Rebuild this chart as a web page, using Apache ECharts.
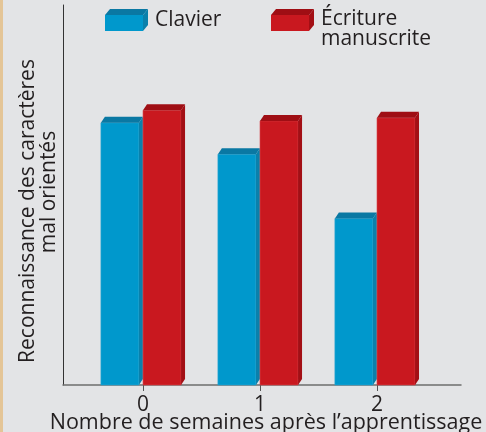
<!DOCTYPE html>
<html>
<head>
<meta charset="utf-8">
<script src="https://cdn.jsdelivr.net/npm/echarts@6/dist/echarts.min.js"></script>
<style>
  html, body { margin: 0; padding: 0; background: #e3e4e6; }
  #chart { width: 486px; height: 432px; }
</style>
</head>
<body>
<div id="chart"></div>
<script>
// ---- data ----
const weeks = [0, 1, 2];
const weekLabels = ['0', '1', '2'];
const seriesNames = ['Clavier', 'Écriture manuscrite'];
const clavier = [69.0, 60.7, 43.8];
const manuscrite = [72.3, 69.5, 70.3];
const xTitle = 'Nombre de semaines après l’apprentissage';
const yTitleLines = ['Reconnaissance des caractères', 'mal orientés'];

// ---- style ----
const FONT = '"Open Sans", "Noto Sans", sans-serif';
const TEXT = '#231f20';
const faces = [
  { front: '#0098cc', top: '#0a78a3', side: '#0a80ab', edge: '#2aa6d4' },
  { front: '#c9181f', top: '#9f0e14', side: '#a30f15', edge: '#d6454b' }
];
const SLOT = 0.36, FRONT = 0.325, DX = 4, DY = 6;

function boxIcon(f, h) {
  const svg = '<svg xmlns="http://www.w3.org/2000/svg" width="43" height="' + h + '" viewBox="0 0 43 ' + h + '">' +
    '<rect x="0" y="6" width="38" height="16" fill="' + f.front + '"/>' +
    '<polygon points="0,6 5,0 43,0 38,6" fill="' + f.top + '"/>' +
    '<polygon points="38,6 43,0 43,16 38,22" fill="' + f.side + '"/>' +
    '</svg>';
  return 'image://data:image/svg+xml;charset=utf-8,' + encodeURIComponent(svg);
}

function makeRender(idx) {
  const f = faces[idx];
  return function (params, api) {
    const x = api.value(0), v = api.value(1);
    const unit = api.size([1, 0])[0];
    const slot = unit * SLOT, fw = unit * FRONT;
    const t = api.coord([x, v]);
    const b = api.coord([x, 0]);
    const x0 = t[0] + (idx === 0 ? -slot : 0);
    const x1 = x0 + fw;
    return {
      type: 'group',
      children: [
        { type: 'rect', shape: { x: x0, y: t[1], width: fw, height: b[1] - t[1] }, style: { fill: f.front, stroke: f.edge, lineWidth: 0.6 } },
        { type: 'polygon', shape: { points: [[x1, t[1]], [x1 + DX, t[1] - DY], [x1 + DX, b[1] - DY], [x1, b[1]]] }, style: { fill: f.side } },
        { type: 'polygon', shape: { points: [[x0, t[1]], [x0 + DX, t[1] - DY], [x1 + DX, t[1] - DY], [x1, t[1]]] }, style: { fill: f.top } }
      ]
    };
  };
}

const chart = echarts.init(document.getElementById('chart'), null, { renderer: 'canvas' });
chart.setOption({
  backgroundColor: '#e3e4e6',
  animation: false,
  textStyle: { fontFamily: FONT },
  grid: { left: 63, right: 25, top: 5, bottom: 47, containLabel: false, outerBoundsMode: 'none' },
  legend: [
    {
      left: 105, top: 9, padding: 0, itemWidth: 43, itemHeight: 22,
      selectedMode: false,
      data: [{ name: seriesNames[0], icon: boxIcon(faces[0], 22) }],
      textStyle: { fontSize: 21, color: TEXT, fontFamily: FONT, padding: [0, 0, 0, 2] }
    },
    {
      left: 271, top: 9, padding: 0, itemWidth: 43, itemHeight: 41,
      selectedMode: false,
      data: [{ name: seriesNames[1], icon: boxIcon(faces[1], 41) }],
      formatter: function (n) { return n.replace(' ', '\n'); },
      textStyle: { fontSize: 21, lineHeight: 20, color: TEXT, fontFamily: FONT, padding: [0, 0, 0, 2] }
    }
  ],
  xAxis: {
    type: 'value',
    min: -0.684, max: 2.718,
    name: xTitle,
    nameLocation: 'middle',
    nameGap: 27,
    nameMoveOverlap: false,
    nameTextStyle: { fontSize: 21.5, color: TEXT, fontFamily: FONT, padding: [0, 0, 0, 8] },
    axisLine: { show: true, onZero: false, lineStyle: { color: '#6e6e6e', width: 1.5 } },
    axisTick: { show: true, length: 6, customValues: weeks, lineStyle: { color: '#555', width: 1 } },
    axisLabel: {
      show: true, margin: 10, customValues: weeks,
      formatter: function (v) { return weekLabels[weeks.indexOf(v)]; },
      fontSize: 21, color: TEXT, fontFamily: FONT
    },
    splitLine: { show: false }
  },
  yAxis: {
    type: 'value', min: 0, max: 100,
    axisLine: { show: true, onZero: false, lineStyle: { color: '#333', width: 1 } },
    axisTick: { show: false }, axisLabel: { show: false }, splitLine: { show: false }
  },
  series: [
    {
      name: seriesNames[0], type: 'custom', renderItem: makeRender(0),
      itemStyle: { color: faces[0].front },
      encode: { x: 0, y: 1 },
      data: weeks.map((w, i) => [w, clavier[i]])
    },
    {
      name: seriesNames[1], type: 'custom', renderItem: makeRender(1),
      itemStyle: { color: faces[1].front },
      encode: { x: 0, y: 1 },
      data: weeks.map((w, i) => [w, manuscrite[i]])
    }
  ],
  graphic: [
    { type: 'rect', left: 0, top: 0, shape: { width: 3, height: 432 }, style: { fill: '#e4c597' }, silent: true },
    { type: 'text', x: 28, y: 211, rotation: Math.PI / 2,
      style: { text: yTitleLines[0], font: '21px ' + FONT, fill: TEXT, textAlign: 'center', textVerticalAlign: 'middle' } },
    { type: 'text', x: 49, y: 192, rotation: Math.PI / 2,
      style: { text: yTitleLines[1], font: '21px ' + FONT, fill: TEXT, textAlign: 'center', textVerticalAlign: 'middle' } }
  ]
});
</script>
</body>
</html>
